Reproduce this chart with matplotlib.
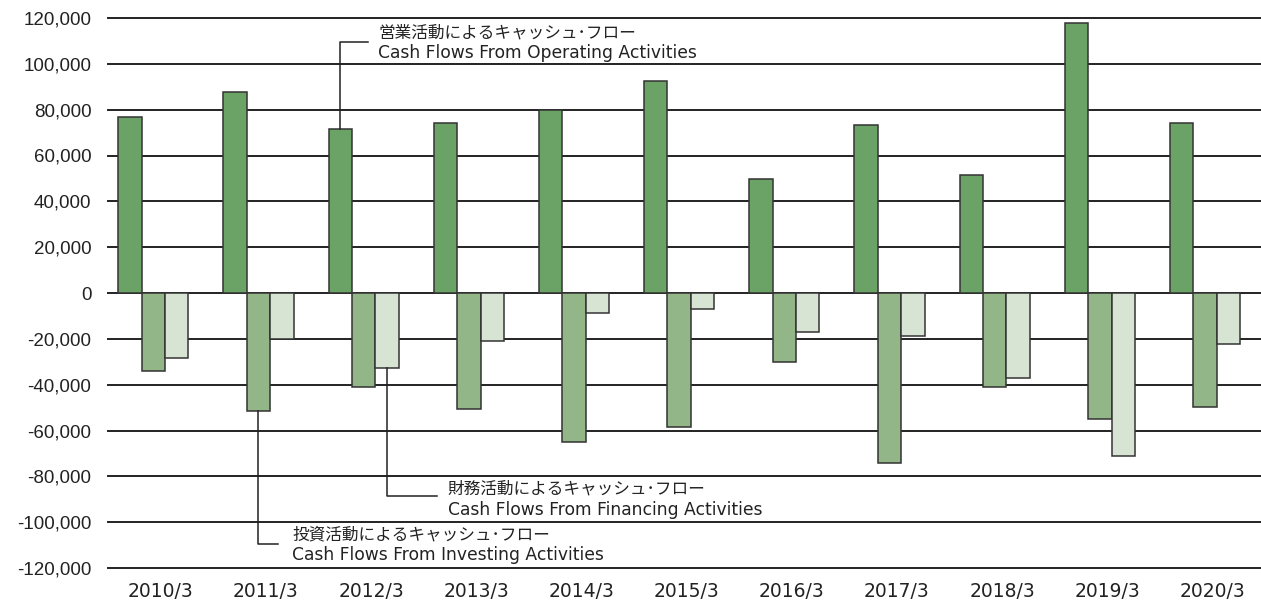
import numpy as np
import matplotlib
matplotlib.use("Agg")
import matplotlib.pyplot as plt

# fiscal years (March year-end)
years = ["2010/3", "2011/3", "2012/3", "2013/3", "2014/3", "2015/3",
         "2016/3", "2017/3", "2018/3", "2019/3", "2020/3"]

# cash flows
operating = [76900, 87900, 71700, 74000, 79900, 92700, 49800, 73300, 51600, 118000, 74300]
investing = [-34200, -51500, -41000, -50500, -65000, -58400, -30100, -74100, -41200, -54800, -49800]
financing = [-28200, -20100, -32800, -21000, -8900, -7150, -16800, -18800, -36900, -71100, -22300]

yticks = [120000, 100000, 80000, 60000, 40000, 20000, 0,
          -20000, -40000, -60000, -80000, -100000, -120000]
ytick_labels = ["120,000", "100,000", "80,000", "60,000", "40,000", "20,000", "0",
                "-20,000", "-40,000", "-60,000", "-80,000", "-100,000", "-120,000"]

op_jp = "営業活動によるキャッシュ･フロー"
op_en = "Cash Flows From Operating Activities"
inv_jp = "投資活動によるキャッシュ･フロー"
inv_en = "Cash Flows From Investing Activities"
fin_jp = "財務活動によるキャッシュ･フロー"
fin_en = "Cash Flows From Financing Activities"

c_op = "#6ba366"
c_inv = "#93b689"
c_fin = "#d7e3d3"
edge = "#333333"

fig = plt.figure(figsize=(12.61, 6.01), dpi=100)
ax = fig.add_axes([108 / 1261, 33 / 601, 1 - 108 / 1261, 550 / 601])

x = np.arange(len(years))
w = 0.2225

for t in yticks:
    ax.axhline(t, color="#222222", lw=1.4, zorder=0, clip_on=False)

ax.bar(x - w, operating, w, color=c_op, edgecolor=edge, lw=1.1, zorder=2)
ax.bar(x, investing, w, color=c_inv, edgecolor=edge, lw=1.1, zorder=2)
ax.bar(x + w, financing, w, color=c_fin, edgecolor=edge, lw=1.1, zorder=2)

ax.set_xlim(-0.4307, 10.532)
ax.set_ylim(-120000, 120000)
for s in ax.spines.values():
    s.set_visible(False)

ax.set_yticks(yticks)
ax.set_yticklabels(ytick_labels, family="Liberation Sans", fontsize=13.5, color="#222222")
ax.set_xticks(x + 0.07)
ax.set_xticklabels(years, family="DejaVu Sans", fontsize=13.5, color="#222222")
ax.tick_params(axis="y", length=0, pad=12)
ax.tick_params(axis="x", length=0, pad=10)

# leader lines + labels
lk = dict(color="#222222", lw=1.1, clip_on=False, zorder=3)
jp = dict(family=["Noto Sans CJK JP", "DejaVu Sans"], fontsize=12, color="#222222", va="center")
en = dict(family="DejaVu Sans", fontsize=12.3, color="#222222", va="center")

# operating -> 2012/3 bar
xo = 2 - w
ax.plot([xo, xo, 2.041], [operating[2], 109400, 109400], **lk)
ax.text(2.137, 113300, op_jp, **jp)
ax.text(2.137, 104800, op_en, **en)

# investing -> 2011/3 bar
ax.plot([1, 1, 1.186], [investing[1], -109700, -109700], **lk)
ax.text(1.319, -105700, inv_jp, **jp)
ax.text(1.319, -114400, inv_en, **en)

# financing -> 2012/3 bar
xf = 2 + w
ax.plot([xf, xf, 2.698], [financing[2], -88600, -88600], **lk)
ax.text(2.80, -85400, fin_jp, **jp)
ax.text(2.80, -94600, fin_en, **en)

fig.savefig("out.png", dpi=100)
